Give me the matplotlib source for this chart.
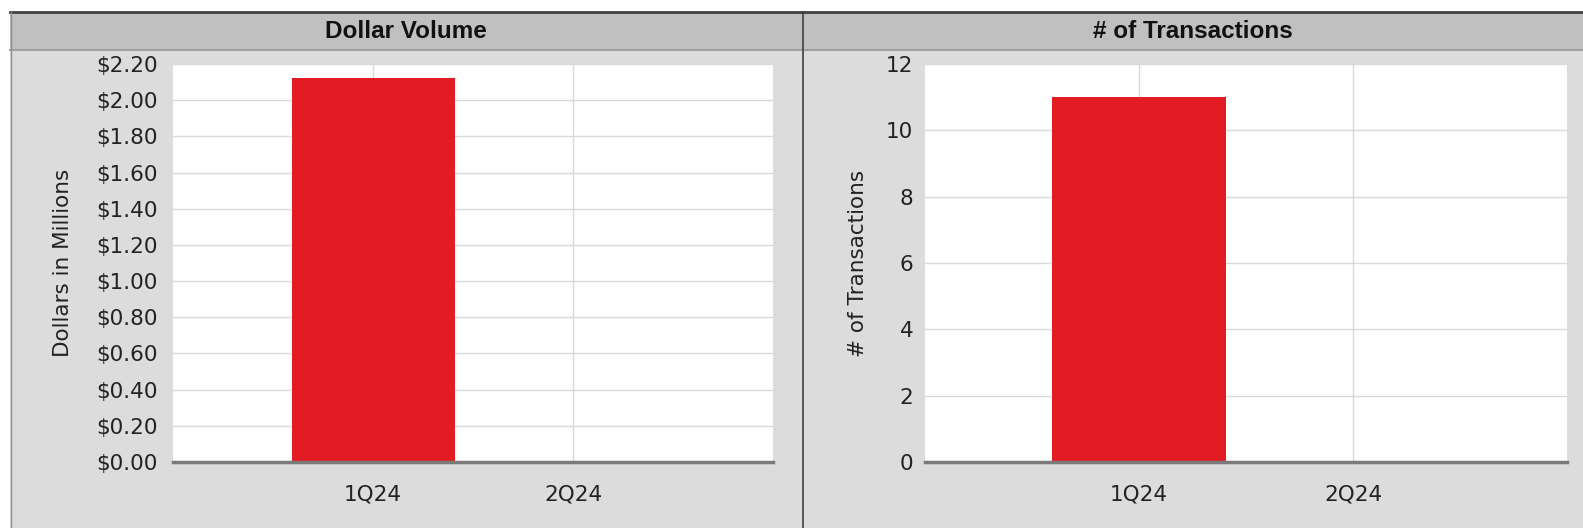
import matplotlib
matplotlib.use('Agg')
import matplotlib.pyplot as plt
from matplotlib import font_manager
from matplotlib.patches import Rectangle
from matplotlib.lines import Line2D
from matplotlib.ticker import FuncFormatter

# quarterly data
quarters = ['1Q24', '2Q24']
dollar_volume = [2.12, 0.0]      # dollars in millions
transactions = [11, 0]

dollar_ticks = [0.0, 0.2, 0.4, 0.6, 0.8, 1.0, 1.2, 1.4, 1.6, 1.8, 2.0, 2.2]
txn_ticks = [0, 2, 4, 6, 8, 10, 12]

panel_titles = ['Dollar Volume', '# of Transactions']
y_labels = ['Dollars in Millions', '# of Transactions']

BAR_RED = '#e31b23'
PANEL_GRAY = '#dcdcdc'
HEADER_GRAY = '#c0c0c0'
TEXT = '#222222'

W, H = 1583, 528

# header font: narrow bold if available
names = {f.name for f in font_manager.fontManager.ttflist}
if 'Liberation Sans Narrow' in names:
    head_font, head_size = 'Liberation Sans Narrow', 19
else:
    head_font, head_size = 'Liberation Sans', 17.5

plt.rcParams['font.family'] = 'DejaVu Sans'

fig = plt.figure(figsize=(W / 100, H / 100), dpi=100, facecolor='white')


def fx(px):
    return px / W


def fy(py):
    return 1 - py / H


# background panels (drawn beneath the axes)
fig.patches.append(Rectangle((fx(10), 0), 1 - fx(10), fy(12), transform=fig.transFigure,
                             facecolor=PANEL_GRAY, edgecolor='none', zorder=-2))
fig.patches.append(Rectangle((fx(10), fy(50)), 1 - fx(10), fy(12) - fy(50), transform=fig.transFigure,
                             facecolor=HEADER_GRAY, edgecolor='none', zorder=-2))
fig.lines.append(Line2D([fx(10), 1], [fy(49.5), fy(49.5)], transform=fig.transFigure,
                        color='#a0a0a0', lw=1.5, zorder=-1))
fig.lines.append(Line2D([fx(10), 1], [fy(11.5), fy(11.5)], transform=fig.transFigure,
                        color='#404040', lw=2, zorder=-1))
fig.lines.append(Line2D([fx(10.5), fx(10.5)], [0, fy(12)], transform=fig.transFigure,
                        color='#909090', lw=1, zorder=-1))
fig.lines.append(Line2D([fx(803), fx(803)], [0, fy(12)], transform=fig.transFigure,
                        color='#404040', lw=1.2, zorder=-1))

# header titles
fig.text(fx(406), fy(31), panel_titles[0], ha='center', va='center', fontsize=head_size,
         fontweight='bold', family=head_font, color='#111111')
fig.text(fx(1193), fy(31), panel_titles[1], ha='center', va='center', fontsize=head_size,
         fontweight='bold', family=head_font, color='#111111')

top_px, bot_px = 64, 462
ax1 = fig.add_axes([fx(173), fy(bot_px), fx(773) - fx(173), fy(top_px) - fy(bot_px)])
ax2 = fig.add_axes([fx(925), fy(bot_px), fx(1567) - fx(925), fy(top_px) - fy(bot_px)])

x = list(range(len(quarters)))

for ax, vals, ticks, ylab, ypad, labx in [
        (ax1, dollar_volume, dollar_ticks, y_labels[0], 11, -0.167),
        (ax2, transactions, txn_ticks, y_labels[1], 8.5, -0.089)]:
    ax.set_facecolor('white')
    ax.bar(x, vals, width=0.815, color=BAR_RED, zorder=3)
    ax.set_xlim(-1, 2)
    ax.set_ylim(ticks[0], ticks[-1])
    ax.set_xticks(x)
    ax.set_xticklabels(quarters)
    ax.set_yticks(ticks)
    ax.grid(True, color='#d9d9d9', lw=1, zorder=0)
    ax.set_axisbelow(True)
    for side in ['top', 'right', 'left']:
        ax.spines[side].set_visible(False)
    ax.spines['bottom'].set_color('#7a7a7a')
    ax.spines['bottom'].set_linewidth(2.5)
    ax.spines['bottom'].set_zorder(4)
    ax.tick_params(axis='y', length=0, pad=ypad, labelsize=15.5, labelcolor=TEXT)
    ax.tick_params(axis='x', length=0, pad=16, labelsize=15.5, labelcolor=TEXT)
    ax.set_ylabel(ylab, fontsize=15.5, color=TEXT)
    ax.yaxis.set_label_coords(labx, 0.5)

ax1.yaxis.set_major_formatter(FuncFormatter(lambda v, p: f'${v:.2f}'))

fig.savefig('out.png', dpi=100, facecolor=fig.get_facecolor())
